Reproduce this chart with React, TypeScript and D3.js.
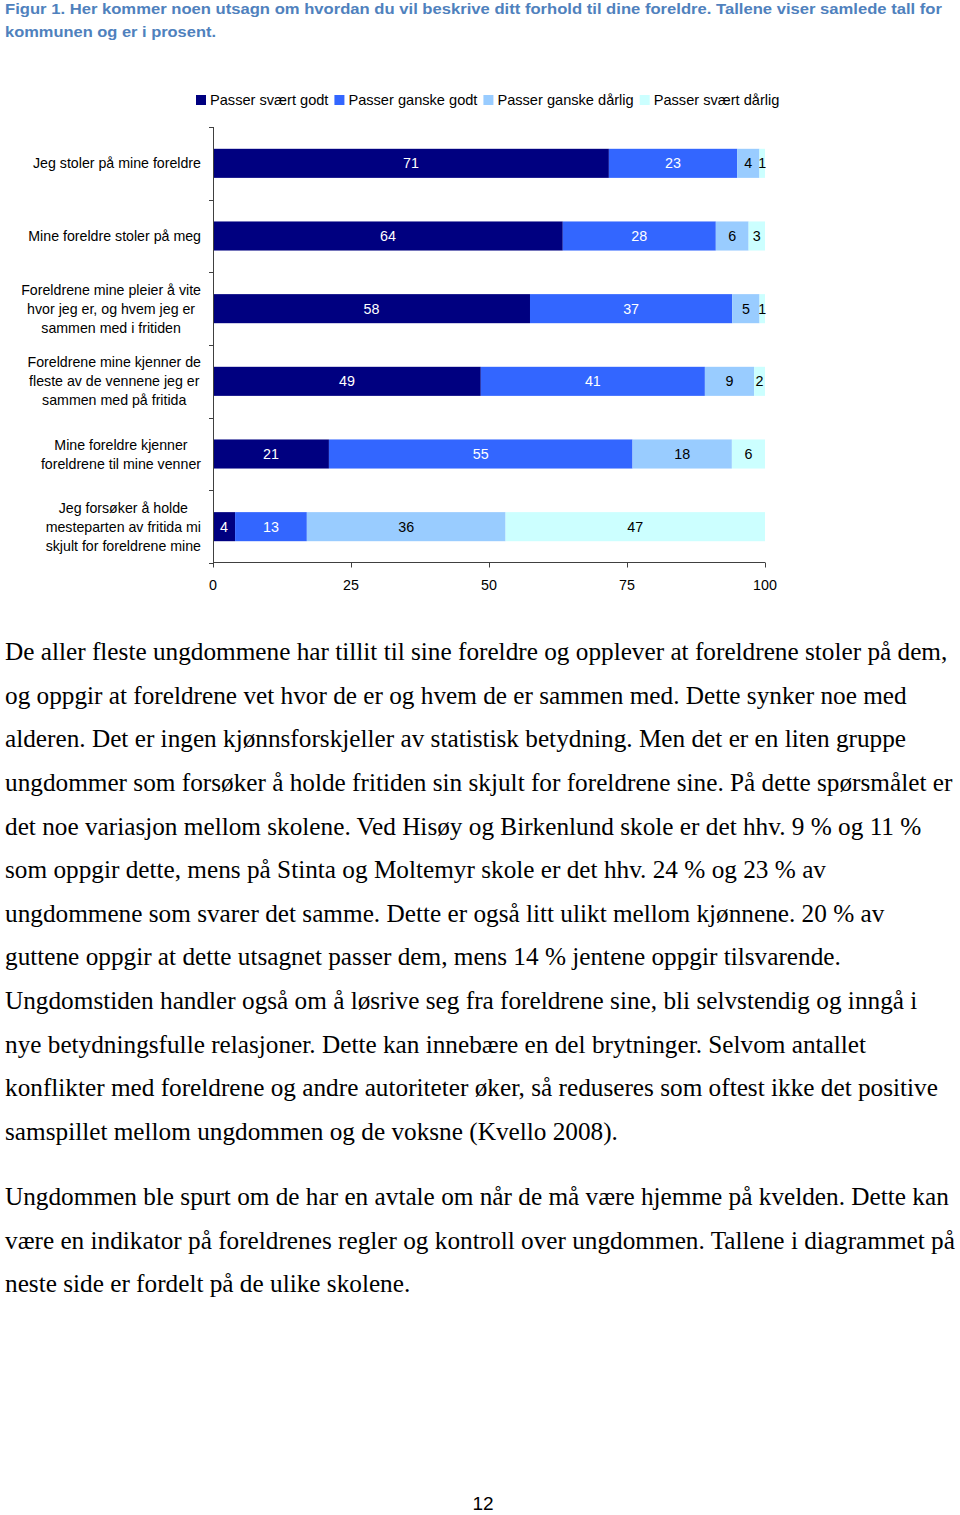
import React, { useEffect, useRef } from "react";
import * as d3 from "d3";

const categories: string[][] = [
  ["Jeg stoler på mine foreldre"],
  ["Mine foreldre stoler på meg"],
  ["Foreldrene mine pleier å vite", "hvor jeg er, og hvem jeg er", "sammen med i fritiden"],
  ["Foreldrene mine kjenner de", "fleste av de vennene jeg er", "sammen med på fritida"],
  ["Mine foreldre kjenner", "foreldrene til mine venner"],
  ["Jeg forsøker å holde", "mesteparten av fritida mi", "skjult for foreldrene mine"],
];
const seriesNames = ["Passer svært godt", "Passer ganske godt", "Passer ganske dårlig", "Passer svært dårlig"];
const sværtGodt = [71, 64, 58, 49, 21, 4];
const ganskeGodt = [23, 28, 37, 41, 55, 13];
const ganskeDårlig = [4, 6, 5, 9, 18, 36];
const sværtDårlig = [1, 3, 1, 2, 6, 47];
const tickValues = [0, 25, 50, 75, 100];
const colors = ["#000080", "#3366FF", "#99CCFF", "#CCFFFF"];
const labelColors = ["#ffffff", "#ffffff", "#000000", "#000000"];

const captionLines = [
  "Figur 1. Her kommer noen utsagn om hvordan du vil beskrive ditt forhold til dine foreldre. Tallene viser samlede tall for",
  "kommunen og er i prosent.",
];
const paragraph1 = [
  "De aller fleste ungdommene har tillit til sine foreldre og opplever at foreldrene stoler på dem,",
  "og oppgir at foreldrene vet hvor de er og hvem de er sammen med. Dette synker noe med",
  "alderen. Det er ingen kjønnsforskjeller av statistisk betydning. Men det er en liten gruppe",
  "ungdommer som forsøker å holde fritiden sin skjult for foreldrene sine. På dette spørsmålet er",
  "det noe variasjon mellom skolene. Ved Hisøy og Birkenlund skole er det hhv. 9 % og 11 %",
  "som oppgir dette, mens på Stinta og Moltemyr skole er det hhv. 24 % og 23 % av",
  "ungdommene som svarer det samme. Dette er også litt ulikt mellom kjønnene. 20 % av",
  "guttene oppgir at dette utsagnet passer dem, mens 14 % jentene oppgir tilsvarende.",
  "Ungdomstiden handler også om å løsrive seg fra foreldrene sine, bli selvstendig og inngå i",
  "nye betydningsfulle relasjoner. Dette kan innebære en del brytninger. Selvom antallet",
  "konflikter med foreldrene og andre autoriteter øker, så reduseres som oftest ikke det positive",
  "samspillet mellom ungdommen og de voksne (Kvello 2008).",
];
const paragraph2 = [
  "Ungdommen ble spurt om de har en avtale om når de må være hjemme på kvelden. Dette kan",
  "være en indikator på foreldrenes regler og kontroll over ungdommen. Tallene i diagrammet på",
  "neste side er fordelt på de ulike skolene.",
];
const pageNumber = "12";

const SANS = "'Liberation Sans', Arial, sans-serif";
const SERIF = "'Liberation Serif', 'Times New Roman', serif";

export default function App() {
  const ref = useRef<SVGSVGElement | null>(null);

  useEffect(() => {
    const svg = d3.select(ref.current);
    svg.selectAll("*").remove();

    // Caption
    const cap = svg.append("g");
    const capWidths = [937, 211];
    captionLines.forEach((t, i) => {
      cap
        .append("text")
        .attr("x", 5)
        .attr("y", 14 + i * 23)
        .attr("font-family", SANS)
        .attr("font-weight", "bold")
        .attr("font-size", 15)
        .attr("fill", "#4F81BD")
        .attr("textLength", capWidths[i])
        .attr("lengthAdjust", "spacingAndGlyphs")
        .text(t);
    });

    // Legend
    const leg = svg.append("g");
    let lx = 196;
    seriesNames.forEach((name, i) => {
      leg.append("rect").attr("x", lx).attr("y", 95).attr("width", 10).attr("height", 10).attr("fill", colors[i]);
      const t = leg
        .append("text")
        .attr("x", lx + 14)
        .attr("y", 105)
        .attr("font-family", SANS)
        .attr("font-size", 14.6)
        .attr("fill", "#000")
        .text(name);
      const w = (t.node() as SVGTextElement).getComputedTextLength();
      lx = lx + 14 + w + 6;
    });

    // Chart
    const data = categories.map((c, i) => ({
      idx: i,
      v0: sværtGodt[i],
      v1: ganskeGodt[i],
      v2: ganskeDårlig[i],
      v3: sværtDårlig[i],
    }));
    const keys = ["v0", "v1", "v2", "v3"];
    const stack = d3.stack<any>().keys(keys).offset(d3.stackOffsetExpand);
    const stacked = stack(data);

    const x = d3.scaleLinear().domain([0, 1]).range([213, 765]);
    const xAxisScale = d3.scaleLinear().domain([0, 100]).range([213, 765]);
    const y = d3
      .scaleBand<number>()
      .domain(categories.map((_, i) => i))
      .range([127, 563])
      .paddingInner(0.6)
      .paddingOuter(0.3);

    const chart = svg.append("g");
    stacked.forEach((layer, si) => {
      const g = chart.append("g");
      layer.forEach((d: any, ci: number) => {
        const x0 = x(d[0]);
        const x1 = x(d[1]);
        g.append("rect")
          .attr("x", x0)
          .attr("y", y(ci)!)
          .attr("width", Math.max(0, x1 - x0))
          .attr("height", y.bandwidth())
          .attr("fill", colors[si]);
      });
    });
    stacked.forEach((layer, si) => {
      layer.forEach((d: any, ci: number) => {
        const x0 = x(d[0]);
        const x1 = x(d[1]);
        const val = (data[ci] as any)[keys[si]];
        chart
          .append("text")
          .attr("x", (x0 + x1) / 2)
          .attr("y", y(ci)! + y.bandwidth() / 2 + 5)
          .attr("text-anchor", "middle")
          .attr("font-family", SANS)
          .attr("font-size", 14.3)
          .attr("fill", labelColors[si])
          .text(String(val));
      });
    });

    // Y axis
    const axisColor = "#404040";
    chart
      .append("line")
      .attr("x1", 213.5)
      .attr("x2", 213.5)
      .attr("y1", 127)
      .attr("y2", 563)
      .attr("stroke", axisColor);
    const step = y.step();
    for (let i = 0; i <= categories.length; i++) {
      const yy = Math.round(127 + i * step) + 0.5;
      chart.append("line").attr("x1", 209).attr("x2", 213.5).attr("y1", yy).attr("y2", yy).attr("stroke", axisColor);
    }
    // Category labels
    categories.forEach((lines, ci) => {
      const cy = y(ci)! + y.bandwidth() / 2;
      const lh = 19;
      const g = chart.append("g");
      const texts = lines.map((l, li) =>
        g
          .append("text")
          .attr("y", cy + (li - (lines.length - 1) / 2) * lh + 5)
          .attr("text-anchor", "middle")
          .attr("font-family", SANS)
          .attr("font-size", 14.2)
          .attr("fill", "#000")
          .text(l)
      );
      const maxW = d3.max(texts, (t) => (t.node() as SVGTextElement).getComputedTextLength()) || 0;
      texts.forEach((t) => t.attr("x", 201 - maxW / 2));
    });

    // X axis
    const xAxisG = chart.append("g").attr("transform", "translate(0,562.5)");
    xAxisG
      .append("line")
      .attr("x1", 213)
      .attr("x2", 765)
      .attr("y1", 0)
      .attr("y2", 0)
      .attr("stroke", axisColor);
    tickValues.forEach((tv) => {
      const xx = Math.round(xAxisScale(tv)) + 0.5;
      xAxisG.append("line").attr("x1", xx).attr("x2", xx).attr("y1", 0).attr("y2", 5).attr("stroke", axisColor);
      xAxisG
        .append("text")
        .attr("x", xAxisScale(tv))
        .attr("y", 27)
        .attr("text-anchor", "middle")
        .attr("font-family", SANS)
        .attr("font-size", 14.3)
        .attr("fill", "#000")
        .text(String(tv));
    });

    // Body text
    const body = svg.append("g");
    const lineH = 43.64;
    const bodySize = 25.25;
    paragraph1.forEach((t, i) => {
      body
        .append("text")
        .attr("x", 5)
        .attr("y", 660 + i * lineH)
        .attr("font-family", SERIF)
        .attr("font-size", bodySize)
        .attr("fill", "#000")
        .text(t);
    });
    paragraph2.forEach((t, i) => {
      body
        .append("text")
        .attr("x", 5)
        .attr("y", 1205 + i * lineH)
        .attr("font-family", SERIF)
        .attr("font-size", bodySize)
        .attr("fill", "#000")
        .text(t);
    });

    svg
      .append("text")
      .attr("x", 483)
      .attr("y", 1510)
      .attr("text-anchor", "middle")
      .attr("font-family", SANS)
      .attr("font-size", 19)
      .attr("fill", "#000")
      .text(pageNumber);
  }, []);

  return (
    <svg
      ref={ref}
      width={960}
      height={1515}
      style={{ position: "absolute", left: 0, top: 0, background: "#fff" }}
    />
  );
}
